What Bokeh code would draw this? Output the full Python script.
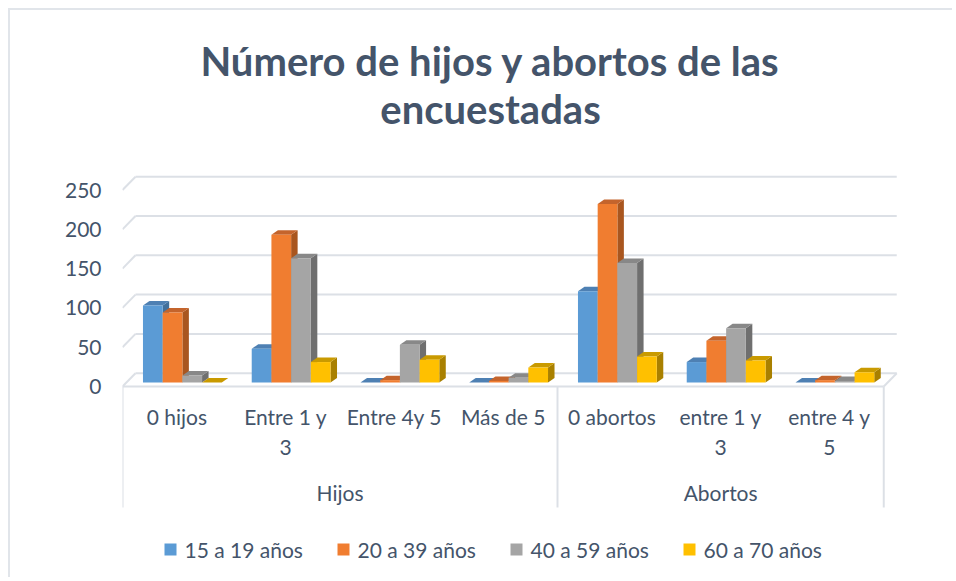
from bokeh.plotting import figure
from bokeh.models import Range1d, FixedTicker
from bokeh.core.properties import value
from bokeh.embed import file_html
from bokeh.resources import INLINE

# ---------------- data ----------------
title_lines = ["Número de hijos y abortos de las", "encuestadas"]
categories = ["0 hijos", "Entre 1 y 3", "Entre 4y 5", "Más de 5",
              "0 abortos", "entre 1 y 3", "entre 4 y 5"]
cat_line1 = ["0 hijos", "Entre 1 y", "Entre 4y 5", "Más de 5",
             "0 abortos", "entre 1 y", "entre 4 y"]
cat_line2 = ["", "3", "", "", "", "3", "5"]
groups = ["Hijos", "Abortos"]
group_sizes = [4, 3]
series = ["15 a 19 años", "20 a 39 años", "40 a 59 años", "60 a 70 años"]
v15_19 = [98, 43, 0, 0, 116, 26, 0]
v20_39 = [89, 188, 3, 2, 227, 53, 3]
v40_59 = [9, 158, 48, 6, 152, 69, 2]
v60_70 = [0, 26, 29, 19, 33, 28, 13]
y_ticks = [0, 50, 100, 150, 200, 250]

# ---------------- styles ----------------
FRONT = ["#5B9BD5", "#F07D30", "#A5A5A5", "#FFC000"]
TOP = ["#4E80B3", "#C4642C", "#888888", "#C99A00"]
SIDE = ["#41709C", "#A9561F", "#6F6F6F", "#A98000"]
TXT = "#44546A"
GRID = "#DCE0E6"
FONT = "Lato"

# page geometry (pixels) -> data units
ORIGIN = 10  # page position of the canvas (margin + border)
W, H = 944, 569
FRAME_LEFT_PX, FRAME_TOP_PX = 122, ORIGIN
FRAME_RIGHT_PX, FRAME_BOT_PX = ORIGIN + W, ORIGIN + H
CAT_PX = 108.75
Y0_PX = 386.0
K = 0.786  # px per unit


def X(px):
    return (px - FRAME_LEFT_PX) / CAT_PX


def Y(py):
    return (Y0_PX - py) / K


WALL_DX, WALL_DY = 13 / CAT_PX, 13.3 / K
BW = 19.7 / CAT_PX
SHIFT = 5.5 / CAT_PX
BASE = 4 / K
BDX, BDY = 6.5 / CAT_PX, 4.5 / K

p = figure(width=W, height=H,
           x_range=Range1d(0, X(FRAME_RIGHT_PX)),
           y_range=Range1d(Y(FRAME_BOT_PX), Y(FRAME_TOP_PX)),
           x_axis_type=None, output_backend="svg", toolbar_location=None,
           min_border_left=FRAME_LEFT_PX - ORIGIN, min_border_right=0,
           min_border_top=0, min_border_bottom=0)
p.styles = {"margin-left": "8px", "margin-top": "8px",
            "border-left": "2px solid #E1E5EA", "border-top": "2px solid #E1E5EA"}
p.grid.visible = False
p.outline_line_color = None
p.background_fill_color = "white"
p.border_fill_color = "white"

ya = p.yaxis[0]
ya.ticker = FixedTicker(ticks=y_ticks)
ya.axis_line_color = None
ya.major_tick_line_color = None
ya.minor_tick_line_color = None
ya.major_tick_out = 0
ya.major_tick_in = 0
ya.major_label_standoff = 21
ya.major_label_text_font = FONT
ya.major_label_text_font_size = "21px"
ya.major_label_text_color = TXT

ncat = len(categories)

# back wall gridlines and side-wall slants
p.segment(x0=[WALL_DX] * len(y_ticks), y0=[t + WALL_DY for t in y_ticks],
          x1=[ncat + WALL_DX] * len(y_ticks), y1=[t + WALL_DY for t in y_ticks],
          line_color=GRID, line_width=2)
p.segment(x0=[0] * len(y_ticks), y0=y_ticks,
          x1=[WALL_DX] * len(y_ticks), y1=[t + WALL_DY for t in y_ticks],
          line_color=GRID, line_width=2)
p.segment(x0=[ncat], y0=[0], x1=[ncat + WALL_DX], y1=[WALL_DY],
          line_color=GRID, line_width=2)

# 3D bars
all_vals = [v15_19, v20_39, v40_59, v60_70]
fl, fr, fb, ft, fc = [], [], [], [], []
txs, tys, tc = [], [], []
sxs, sys_, sc = [], [], []
for ci in range(ncat):
    start = ci + 0.5 - 2 * BW + SHIFT
    for si, vals in enumerate(all_vals):
        v = vals[ci]
        l = start + si * BW
        r = l + BW
        top = BASE + v
        fl.append(l); fr.append(r); fb.append(BASE); ft.append(top); fc.append(FRONT[si])
        txs.append([l, l + BDX, r + BDX, r]); tys.append([top, top + BDY, top + BDY, top]); tc.append(TOP[si])
        sxs.append([r, r + BDX, r + BDX, r]); sys_.append([BASE, BASE + BDY, top + BDY, top]); sc.append(SIDE[si])

p.patches(xs=sxs, ys=sys_, fill_color=sc, line_color=None)
p.patches(xs=txs, ys=tys, fill_color=tc, line_color=None)
p.quad(left=fl, right=fr, bottom=fb, top=ft, fill_color=fc, line_color=None)

# category axis (front floor edge + separators)
p.segment(x0=[0], y0=[0], x1=[ncat], y1=[0], line_color=GRID, line_width=2)
sep = [0]
acc = 0
for g in group_sizes:
    acc += g
    sep.append(acc)
p.segment(x0=sep, y0=[0] * len(sep), x1=sep, y1=[Y(507)] * len(sep),
          line_color=GRID, line_width=2)

centers = [i + 0.5 for i in range(ncat)]
p.text(x=centers, y=[Y(416)] * ncat, text=cat_line1, text_font=value(FONT),
       text_font_size="21px", text_color=TXT, text_align="center", text_baseline="middle")
p.text(x=centers, y=[Y(447)] * ncat, text=cat_line2, text_font=value(FONT),
       text_font_size="21px", text_color=TXT, text_align="center", text_baseline="middle")
gcent = [(sep[i] + sep[i + 1]) / 2 for i in range(len(groups))]
p.text(x=gcent, y=[Y(492)] * len(groups), text=groups, text_font=value(FONT),
       text_font_size="21px", text_color=TXT, text_align="center", text_baseline="middle")

# title
p.text(x=[X(490)] * 2, y=[Y(60), Y(108)], text=title_lines, text_font=value(FONT),
       text_font_style="bold", text_font_size="40px", text_color=TXT,
       text_align="center", text_baseline="middle")

# legend
leg_sq = [X(170 + 173 * i) for i in range(4)]
leg_tx = [X(184 + 173 * i) for i in range(4)]
p.scatter(x=leg_sq, y=[Y(549)] * 4, marker="square", size=12,
          fill_color=FRONT, line_color=None)
p.text(x=leg_tx, y=[Y(549)] * 4, text=series, text_font=value(FONT),
       text_font_size="21px", text_color=TXT, text_align="left", text_baseline="middle")

open("out.html", "w").write(file_html(p, INLINE))
